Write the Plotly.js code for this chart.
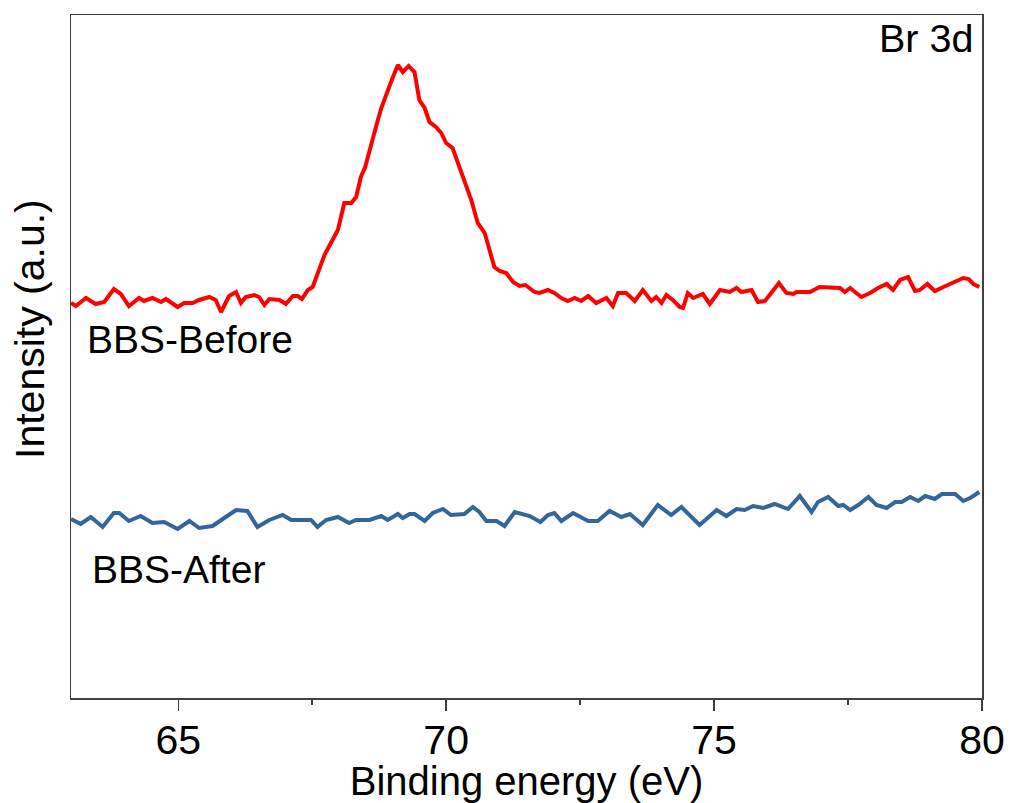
<!DOCTYPE html>
<html>
<head>
<meta charset="utf-8">
<script src="https://cdn.plot.ly/plotly-3.0.1.min.js"></script>
<style>html,body{margin:0;padding:0;background:#fff;}#chart{width:1011px;height:803px;}</style>
</head>
<body>
<div id="chart"></div>
<script>
// Binding energy (eV) and intensity (a.u.)
const beforeEnergy = [63.00,63.09,63.28,63.46,63.62,63.80,63.93,64.08,64.27,64.36,64.52,64.68,64.77,64.99,65.11,65.27,65.39,65.58,65.70,65.80,65.95,66.08,66.17,66.26,66.42,66.51,66.61,66.70,66.89,67.01,67.14,67.23,67.31,67.42,67.51,67.60,67.73,67.88,67.98,68.10,68.23,68.32,68.41,68.49,68.60,68.69,68.79,68.91,69.00,69.10,69.19,69.30,69.41,69.50,69.60,69.69,69.81,69.91,70.00,70.12,70.22,70.34,70.47,70.59,70.72,70.81,70.90,71.00,71.12,71.25,71.37,71.48,71.65,71.74,71.90,72.02,72.15,72.27,72.40,72.52,72.65,72.80,72.99,73.11,73.21,73.36,73.52,73.67,73.83,73.92,74.02,74.11,74.23,74.36,74.42,74.51,74.61,74.79,74.92,75.11,75.29,75.42,75.51,75.70,75.82,75.95,76.07,76.21,76.35,76.48,76.54,76.79,76.97,77.16,77.35,77.44,77.54,77.63,77.75,77.91,78.06,78.22,78.34,78.47,78.62,78.75,78.84,78.98,79.12,79.28,79.43,79.65,79.75,79.84,79.95];
const beforeIntensity = [395,392,400,394,396,409,404,392,400,397,400,396,399,391,395,395,398,401,398,386,402,406,395,401,403,401,393,399,398,394,402,402,399,408,411,425,443,458,468,495,495,501,521,531,555,571,590,608,620,633,626,632,626,598,590,576,571,565,555,550,535,518,498,475,465,448,431,427,425,416,412,413,406,405,408,405,400,397,400,397,402,395,400,392,405,405,397,408,397,401,395,403,398,391,390,405,400,404,394,408,406,410,406,408,396,397,406,415,405,404,406,406,411,410,410,406,410,406,401,405,410,414,408,418,421,407,408,414,407,411,415,420,419,414,411];

const afterEnergy = [63.00,63.18,63.37,63.59,63.80,63.90,64.08,64.30,64.52,64.74,64.99,65.21,65.39,65.64,65.86,66.08,66.29,66.48,66.70,66.95,67.11,67.48,67.60,67.76,67.98,68.19,68.32,68.57,68.79,68.91,69.10,69.19,69.32,69.41,69.60,69.75,69.94,70.09,70.34,70.50,70.62,70.75,70.94,71.09,71.28,71.56,71.76,71.90,72.02,72.15,72.37,72.65,72.83,73.05,73.27,73.43,73.67,73.95,74.20,74.39,74.73,75.05,75.23,75.42,75.57,75.73,75.92,76.13,76.38,76.60,76.82,76.94,77.13,77.32,77.41,77.54,77.69,77.88,78.03,78.22,78.38,78.50,78.66,78.81,78.94,79.12,79.25,79.50,79.65,79.78,79.95];
const afterIntensity = [179,174,181,171,185,185,177,182,175,176,169,177,170,172,180,188,187,171,178,183,178,178,171,178,181,175,178,178,182,178,184,180,184,184,177,185,189,183,184,191,186,177,177,172,186,182,176,183,185,177,185,177,177,187,181,184,173,193,183,191,173,188,182,189,188,192,190,194,189,202,186,196,201,192,193,188,193,201,193,190,196,196,201,197,202,199,204,204,197,200,206];

const seriesNames = ["BBS-Before", "BBS-After"];
const xTickVals = [65, 70, 75, 80];
const xTickText = ["65", "70", "75", "80"];
const peakLabel = "Br 3d";
const xTitle = "Binding energy (eV)";
const yTitle = "Intensity (a.u.)";

const FONT = "Liberation Sans, Arial, sans-serif";

const traces = [
  {x: beforeEnergy, y: beforeIntensity, mode: "lines", name: seriesNames[0],
   line: {color: "#ff0000", width: 4}},
  {x: afterEnergy, y: afterIntensity, mode: "lines", name: seriesNames[1],
   line: {color: "#336699", width: 4}}
];

const layout = {
  width: 1011, height: 803,
  margin: {l: 71, r: 29, t: 15, b: 105},
  paper_bgcolor: "#fff", plot_bgcolor: "#fff",
  showlegend: false,
  font: {family: FONT, color: "#000"},
  xaxis: {
    range: [63, 80],
    tickvals: xTickVals, ticktext: xTickText,
    ticks: "outside", ticklen: 11, tickwidth: 1.3, tickcolor: "#404040",
    ticklabelstandoff: -6,
    minor: {dtick: 2.5, tick0: 0, ticks: "outside", ticklen: 5, tickwidth: 1.3, tickcolor: "#404040"},
    showline: true, linecolor: "#404040", linewidth: 1.5, mirror: true,
    showgrid: false, zeroline: false, automargin: false,
    tickfont: {size: 41, family: FONT, color: "#000"},
    title: {text: xTitle, font: {size: 40, family: FONT, color: "#000"}, standoff: 0}
  },
  yaxis: {
    range: [0, 683],
    showticklabels: false, ticks: "",
    showline: true, linecolor: "#404040", linewidth: 1.5, mirror: true,
    showgrid: false, zeroline: false, automargin: false
  },
  annotations: [
    {x: 30, y: 329, xref: "paper", yref: "paper", text: yTitle, showarrow: false,
     textangle: -90, xanchor: "center", yanchor: "middle",
     font: {size: 41, family: FONT, color: "#000"}},
    {x: 63.26, y: 359, xref: "x", yref: "y", text: seriesNames[0], showarrow: false,
     xanchor: "left", yanchor: "middle", font: {size: 39, family: FONT, color: "#000"}},
    {x: 63.35, y: 129, xref: "x", yref: "y", text: seriesNames[1], showarrow: false,
     xanchor: "left", yanchor: "middle", font: {size: 39, family: FONT, color: "#000"}},
    {x: 79.86, y: 660, xref: "x", yref: "y", text: peakLabel, showarrow: false,
     xanchor: "right", yanchor: "middle", font: {size: 39.5, family: FONT, color: "#000"}}
  ]
};

// convert the y-title pixel position into paper coordinates of the plot area
const plotW = layout.width - layout.margin.l - layout.margin.r;
const plotH = layout.height - layout.margin.t - layout.margin.b;
layout.annotations[0].x = (30 - layout.margin.l) / plotW;
layout.annotations[0].y = (layout.height - layout.margin.b - 329) / plotH;

Plotly.newPlot("chart", traces, layout, {displayModeBar: false, staticPlot: true});
</script>
</body>
</html>
